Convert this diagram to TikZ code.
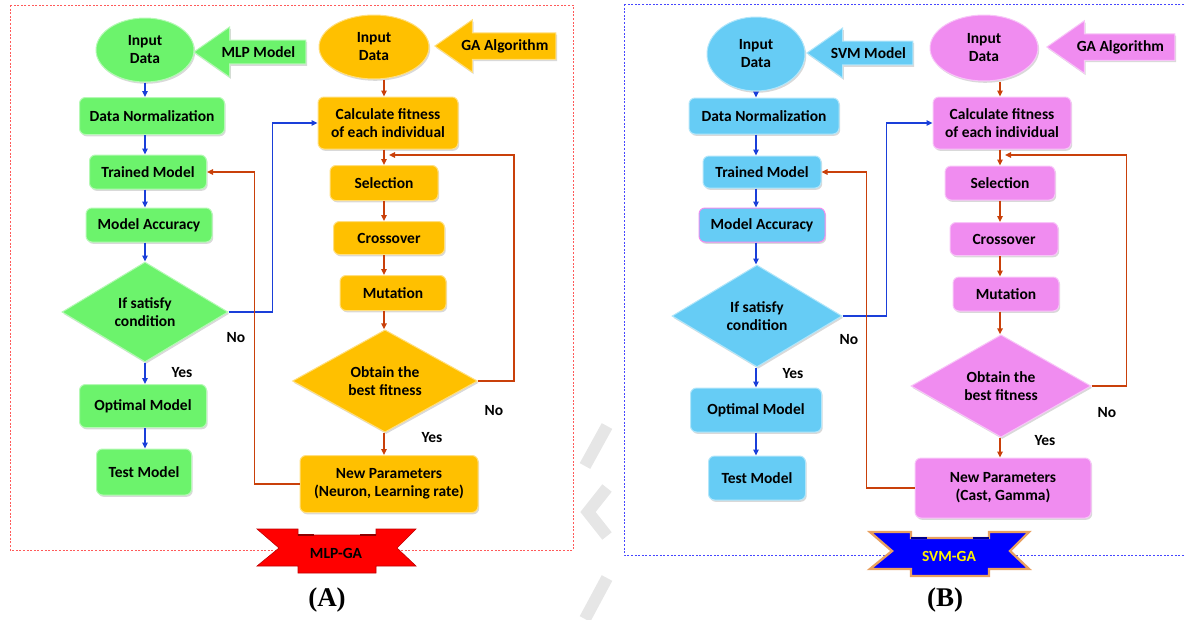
\documentclass[tikz,border=0pt]{standalone}
\usepackage{fontspec}
\setmainfont{Carlito}
\newfontfamily\capfont{Liberation Serif}
\usetikzlibrary{arrows.meta, shapes.geometric, shapes.arrows, shadows}
\definecolor{cgreen}{HTML}{6CF36C}
\definecolor{cgold}{HTML}{FFC000}
\definecolor{csky}{HTML}{66CCF5}
\definecolor{cpink}{HTML}{F08CF0}
\definecolor{cflow}{HTML}{1A3FD9}
\definecolor{cback}{HTML}{C9400A}
\definecolor{cframea}{HTML}{FF5A5A}
\definecolor{cframeb}{HTML}{4646FF}
\definecolor{cglow}{HTML}{E8A060}
\definecolor{cwater}{HTML}{E6E6E6}
\tikzset{
  dropsh/.style={drop shadow={opacity=0.3, shadow xshift=1.2pt, shadow yshift=-1.8pt}},
  box/.style={fill=#1, draw=#1!50!white, line width=1pt, rounded corners=6pt, align=center, inner sep=2pt, dropsh},
  oval/.style={ellipse, box=#1},
  cond/.style={diamond, fill=#1, draw=#1!50!white, line width=1pt, align=center, inner sep=0pt, dropsh},
  tag/.style={single arrow, shape border rotate=180, fill=#1, draw=#1!50!white, line width=1pt, single arrow head extend=13pt, single arrow tip angle=70, inner xsep=2pt, inner ysep=6pt, anchor=tip, dropsh},
  sz/.style 2 args={minimum width=#1pt, minimum height=#2pt},
  flow/.style={-{Triangle[length=6pt, width=5.5pt]}, draw=cflow, line width=1.7pt},
  back/.style={-{Triangle[length=6pt, width=5.5pt]}, draw=cback, line width=1.7pt},
  panel/.style={draw=#1, line width=0.8pt, dash pattern=on 2pt off 1.6pt},
  ribbon/.style={fill=#1, line join=miter},
  caption/.style={font=\capfont\fontsize{27}{30}\selectfont\bfseries},
}

\begin{document}
\begin{tikzpicture}[x=1pt, y=-1pt, font=\fontsize{15.5}{18}\selectfont\bfseries]
  \useasboundingbox (0,0) rectangle (1184,619);
  % watermark between the panels
  \draw[cwater, line width=12pt] (607,426) -- (585,466);
  \draw[cwater, line width=12pt] (607,488) -- (588,512) -- (607,536);
  \draw[cwater, line width=12pt] (607,578) -- (585,619);

  % (A) MLP-GA
  \draw[panel=cframea] (10,5) rectangle (573,550);
  \node[oval=cgreen, sz={98}{64}] (inA) at (145,50) {Input\\Data};
  \node[tag=cgreen, minimum height=112pt] (mlp) at (193,52) {MLP Model};
  \node[box=cgreen, sz={145}{37}] (dnA) at (152,116) {Data Normalization};
  \node[box=cgreen, sz={117}{34}] (tmA) at (148,172) {Trained Model};
  \node[box=cgreen, sz={126}{34}] (accA) at (149,225) {Model Accuracy};
  \node[cond=cgreen, sz={166}{100}] (condA) at (145,312) {If satisfy\\condition};
  \node[box=cgreen, sz={127}{43}] (optA) at (143,406) {Optimal Model};
  \node[box=cgreen, sz={95}{46}] (testA) at (144,472) {Test Model};

  \node[oval=cgold, sz={110}{64}] (inGAa) at (374,47) {Input\\Data};
  \node[tag=cgold, minimum height=121pt] (gaA) at (434,46) {GA Algorithm};
  \node[box=cgold, sz={140}{52}] (fitA) at (388,123) {Calculate fitness\\of each individual};
  \node[box=cgold, sz={108}{35}] (selA) at (384,183) {Selection};
  \node[box=cgold, sz={111}{33}] (crossA) at (389,238) {Crossover};
  \node[box=cgold, sz={106}{35}] (mutA) at (393,293) {Mutation};
  \node[cond=cgold, sz={185}{102}] (bestA) at (385,381) {Obtain the\\best fitness};
  \node[box=cgold, sz={178}{57}] (newA) at (389,484) {New Parameters\\(Neuron, Learning rate)};

  \node (noA) at (236,338) {No};
  \node (yesA) at (182,373) {Yes};
  \node (noA2) at (494,411) {No};
  \node (yesA2) at (432,438) {Yes};

  \foreach \a/\b in {inA/dnA, dnA/tmA, tmA/accA, accA/condA, condA/optA, optA/testA}
    \draw[flow] (\a.south -| inA) -- (\b.north -| inA);
  \foreach \a/\b in {inGAa/fitA, fitA/selA, selA/crossA, crossA/mutA, mutA/bestA, bestA/newA}
    \draw[back] (\a.south -| selA) -- (\b.north -| selA);
  \coordinate (joinA) at (389,155);
  \draw[flow] (condA.east) -- ++(44,0) |- (fitA.west);
  \draw[back] (newA.west) -- ++(-45,0) |- (tmA.east);
  \draw[back] (bestA.east) -- ++(36,0) |- (joinA);

  \begin{scope}[shift={(336,550)}]
    \filldraw[ribbon=red, draw=red!75!black, line width=0.6pt] (-79,-21) -- (-38,-21) -- (-38,-15) -- (40,-15) -- (40,-21) -- (80,-21) -- (61,-2) -- (80,16) -- (40,16) -- (40,23) -- (-38,23) -- (-38,16) -- (-79,16) -- (-57,-2) -- cycle;
    \draw[red!55!black, line width=1.2pt] (-38,-15) -- (-22,-15) (24,-15) -- (40,-15);
  \end{scope}
  \node (tagA) at (336,553) {MLP-GA};
  \node[caption] (capA) at (327,600) {(A)};

  % (B) SVM-GA
  \draw[panel=cframeb] (624,4) rectangle (1190,555);
  \node[oval=csky, sz={98}{74}] (inB) at (756,54) {Input\\Data};
  \node[tag=csky, minimum height=106pt] (svm) at (806,53) {SVM Model};
  \node[box=csky, sz={150}{36}] (dnB) at (764,116) {Data Normalization};
  \node[box=csky, sz={118}{32}] (tmB) at (762,172) {Trained Model};
  \node[box=csky, draw=cpink, sz={126}{34}] (accB) at (762,225) {Model Accuracy};
  \node[cond=csky, sz={170}{102}] (condB) at (757,316) {If satisfy\\condition};
  \node[box=csky, sz={131}{44}] (optB) at (756,410) {Optimal Model};
  \node[box=csky, sz={97}{44}] (testB) at (757,478) {Test Model};

  \node[oval=cpink, sz={108}{66}] (inGAb) at (984,48) {Input\\Data};
  \node[tag=cpink, minimum height=128pt] (gaB) at (1046,47) {GA Algorithm};
  \node[box=cpink, sz={138}{52}] (fitB) at (1002,123) {Calculate fitness\\of each individual};
  \node[box=cpink, sz={110}{34}] (selB) at (1000,183) {Selection};
  \node[box=cpink, sz={108}{33}] (crossB) at (1004,239) {Crossover};
  \node[box=cpink, sz={106}{34}] (mutB) at (1006,294) {Mutation};
  \node[cond=cpink, sz={180}{102}] (bestB) at (1001,386) {Obtain the\\best fitness};
  \node[box=cpink, sz={176}{60}] (newB) at (1003,488) {New Parameters\\(Cast, Gamma)};

  \node (noB) at (849,340) {No};
  \node (yesB) at (793,374) {Yes};
  \node (noB2) at (1107,413) {No};
  \node (yesB2) at (1045,441) {Yes};

  \foreach \a/\b in {inB/dnB, dnB/tmB, tmB/accB, accB/condB, condB/optB, optB/testB}
    \draw[flow] (\a.south -| inB) -- (\b.north -| inB);
  \foreach \a/\b in {inGAb/fitB, fitB/selB, selB/crossB, crossB/mutB, mutB/bestB, bestB/newB}
    \draw[back] (\a.south -| selB) -- (\b.north -| selB);
  \coordinate (joinB) at (1005,155);
  \draw[flow] (condB.east) -- ++(44,0) |- (fitB.west);
  \draw[back] (newB.west) -- ++(-48,0) |- (tmB.east);
  \draw[back] (bestB.east) -- ++(35,0) |- (joinB);

  \begin{scope}[shift={(949,553)}]
    \filldraw[ribbon=blue, draw=cglow, line width=2.4pt] (-79,-21) -- (-38,-21) -- (-38,-15) -- (40,-15) -- (40,-21) -- (80,-21) -- (61,-2) -- (80,16) -- (40,16) -- (40,23) -- (-38,23) -- (-38,16) -- (-79,16) -- (-57,-2) -- cycle;
    \draw[blue!55!black, line width=1.2pt] (-38,-15) -- (-22,-15) (24,-15) -- (40,-15);
  \end{scope}
  \node[text=yellow] (tagB) at (949,556) {SVM-GA};
  \node[caption] (capB) at (945,600) {(B)};
\end{tikzpicture}
\end{document}
